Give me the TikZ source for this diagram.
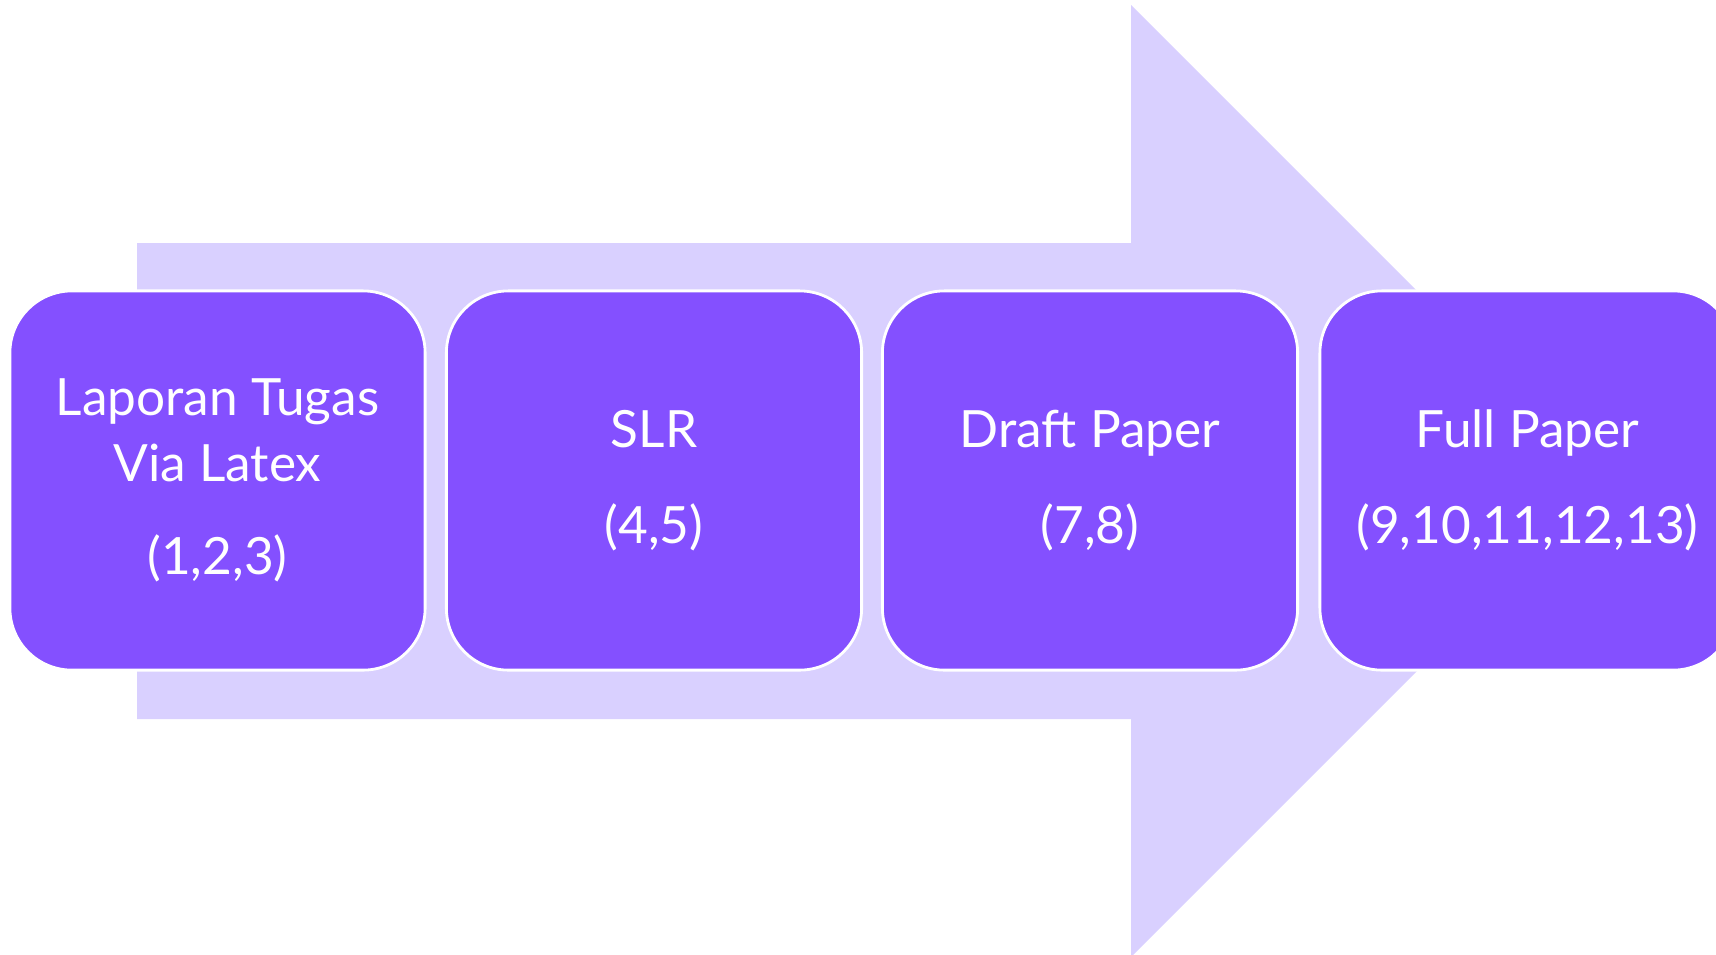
\documentclass[tikz,border=0pt]{standalone}
\usepackage{fontspec}
\setmainfont{Lato}
\definecolor{arrowfill}{RGB}{217,208,255}
\definecolor{stagefill}{RGB}{132,80,255}
\begin{document}
\begin{tikzpicture}[x=0.01cm,y=-0.01cm,
  stage/.style={draw=white, line width=0.8pt, fill=stagefill, rounded corners=0.62cm,
    minimum width=4.15cm, minimum height=3.79cm, text=white, align=center,
    font=\fontsize{14.6}{18.8}\selectfont}]
\useasboundingbox (0,0) rectangle (1716,954);
\clip (0,0) rectangle (1716,954);
\fill[arrowfill] (137,243) -- (1131,243) -- (1131,5) -- (1607,481) -- (1131,957) -- (1131,719) -- (137,719) -- cycle;
\node[stage] (lap) at (217.5,480.5) {Laporan Tugas\\Via Latex\\[7.5pt](1,2,3)};
\node[stage] (slr) at (654,480.5) {SLR\\[8.5pt](4,5)};
\node[stage] (draft) at (1090,480.5) {Draft Paper\\[8.5pt](7,8)};
\node[stage] (full) at (1527.5,480.5) {Full Paper\\[8.5pt](9,10,11,12,13)};
\end{tikzpicture}
\end{document}
